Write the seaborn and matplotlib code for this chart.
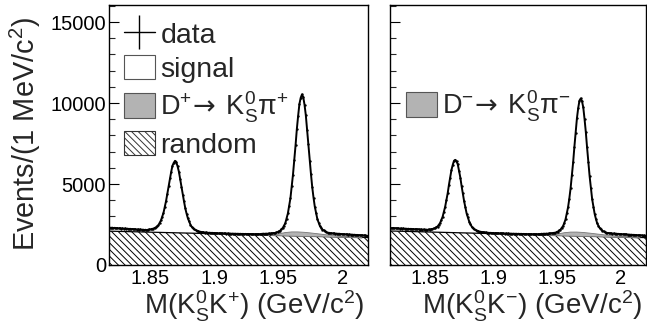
import numpy as np
import pandas as pd
import matplotlib
matplotlib.use("Agg")
import matplotlib.pyplot as plt
import seaborn as sns
from matplotlib.patches import Patch
from matplotlib.lines import Line2D
from matplotlib.ticker import FixedLocator, FixedFormatter, MultipleLocator

# ---------------- data ----------------
bin_start = 1.8185      # first bin centre (GeV/c^2), 1 MeV bins
n_bins = 202
mass = np.round(bin_start + 0.001 * np.arange(n_bins), 4)

data_plus = [
    2310, 2290, 2305, 2280, 2295, 2270, 2285, 2260, 2275, 2250, 2265, 2240, 2255, 2235, 2245,
    2220, 2235, 2210, 2225, 2200, 2215, 2190, 2205, 2180, 2195, 2170, 2185, 2160, 2175, 2150,
    2180, 2200, 2195, 2230, 2240, 2285, 2315, 2390, 2455, 2600, 2750, 2985, 3220, 3590, 3950,
    4410, 4850, 5360, 5750, 6130, 6310, 6430,
    6340, 6085, 5765, 5295, 4845, 4330, 3925, 3500, 3175, 2885, 2690, 2495,
    2360, 2285, 2200, 2165, 2115, 2095, 2060, 2050, 2025, 2028, 2005, 2010,
    1998, 1985, 1992, 1978, 1985, 1970, 1978, 1962, 1970, 1955, 1965, 1950, 1958, 1945, 1952,
    1940, 1948, 1935, 1944, 1930, 1940, 1926, 1935, 1922, 1930, 1918, 1926, 1915, 1922, 1910,
    1920, 1908, 1918, 1906, 1915, 1905, 1914, 1904, 1912, 1903, 1912, 1905, 1914,
    1918, 1935, 1922, 1940, 1928, 1948, 1938, 1960, 1955, 1978, 1975, 2010, 2028, 2085, 2120,
    2210, 2285, 2435, 2580, 2870, 3180, 3645, 4125, 4855, 5585, 6490, 7390, 8390, 9200, 9935,
    10320, 10530,
    10365, 9890, 9250, 8340, 7440, 6445, 5630, 4810, 4165, 3605, 3215, 2835, 2610, 2405, 2305,
    2185, 2140, 2068, 2042, 1992, 1990, 1962, 1968, 1945, 1950, 1932, 1940, 1925, 1932, 1915,
    1912, 1900, 1905, 1890, 1895, 1880, 1886, 1872, 1878, 1862, 1868, 1852, 1858, 1842, 1848,
    1832, 1838, 1822, 1828, 1812, 1805,
]

data_minus = [
    2285, 2270, 2290, 2262, 2278, 2255, 2270, 2248, 2262, 2240, 2255, 2232, 2248, 2225, 2240,
    2218, 2232, 2210, 2225, 2202, 2218, 2195, 2210, 2188, 2202, 2180, 2195, 2172, 2188, 2165,
    2198, 2185, 2218, 2215, 2258, 2270, 2338, 2375, 2485, 2588, 2790, 2975, 3270, 3590, 4020,
    4420, 4945, 5390, 5870, 6180, 6435, 6490,
    6395, 6205, 5810, 5395, 4870, 4415, 3930, 3565, 3170, 2935, 2680, 2525,
    2365, 2292, 2205, 2170, 2115, 2100, 2060, 2055, 2028, 2030, 2008, 2012,
    1992, 1990, 1980, 1985, 1972, 1980, 1965, 1975, 1960, 1968, 1952, 1962, 1948, 1955, 1942,
    1950, 1936, 1946, 1932, 1940, 1926, 1936, 1922, 1932, 1918, 1928, 1914, 1924, 1910, 1920,
    1908, 1918, 1904, 1915, 1902, 1912, 1900, 1910, 1900, 1908, 1902, 1910, 1898,
    1930, 1918, 1936, 1924, 1942, 1932, 1952, 1945, 1968, 1962, 1990, 1990, 2040, 2065, 2135,
    2180, 2295, 2395, 2590, 2815, 3180, 3565, 4105, 4740, 5535, 6330, 7300, 8175, 9060, 9685,
    10150, 10280,
    10110, 9730, 9015, 8220, 7255, 6375, 5490, 4775, 4070, 3600, 3150, 2840, 2565, 2420, 2275,
    2198, 2115, 2080, 2025, 2004, 1975, 1976, 1952, 1958, 1936, 1946, 1928, 1936, 1920, 1922,
    1905, 1910, 1895, 1900, 1885, 1892, 1876, 1882, 1866, 1872, 1856, 1862, 1846, 1852, 1836,
    1842, 1828, 1832, 1818, 1822, 1810,
]

# random (combinatorial) background: straight line across the window
rand_x = [1.818, 2.020]
rand_plus = [2090, 1695]
rand_minus = [2100, 1690]

# peaking background D -> KS pi (height above the random background)
peak_x = [1.940, 1.945, 1.950, 1.955, 1.960, 1.965, 1.970, 1.975,
          1.980, 1.985, 1.990, 1.995, 2.000, 2.005, 2.010, 2.015]
peak_plus = [0, 40, 120, 210, 260, 270, 255, 225, 190, 150, 115, 85, 58, 35, 15, 0]
peak_minus = [0, 35, 110, 200, 250, 262, 248, 218, 182, 145, 110, 80, 55, 32, 14, 0]

xtick_vals = [1.85, 1.90, 1.95, 2.00]
xtick_labels = ["1.85", "1.9", "1.95", "2"]
ytick_vals = [0, 5000, 10000, 15000]
ytick_labels = ["0", "5000", "10000", "15000"]

label_plus = r"$\mathrm{D}^{+}\!\mathsf{\rightarrow}\;\mathrm{K}^{0}_{\mathrm{S}}\mathrm{\pi}^{+}$"
label_minus = r"$\mathrm{D}^{-}\!\mathsf{\rightarrow}\;\mathrm{K}^{0}_{\mathrm{S}}\mathrm{\pi}^{-}$"
xlabel_plus = r"M(K$^{0}_{\mathrm{S}}$K$^{+}$) (GeV/c$^{2}$)"
xlabel_minus = r"M(K$^{0}_{\mathrm{S}}$K$^{-}$) (GeV/c$^{2}$)"

# ---------------- style ----------------
sns.set_theme(style="white")
plt.rcParams["font.family"] = ["Liberation Sans", "DejaVu Sans"]
plt.rcParams["mathtext.fontset"] = "custom"
plt.rcParams["mathtext.rm"] = "Liberation Sans"
plt.rcParams["mathtext.it"] = "Liberation Sans:italic"
plt.rcParams["mathtext.bf"] = "Liberation Sans:bold"
plt.rcParams["mathtext.sf"] = "DejaVu Sans"
plt.rcParams["hatch.linewidth"] = 0.7
plt.rcParams["axes.edgecolor"] = "black"

fig = plt.figure(figsize=(6.47, 3.31), dpi=100)
ax1 = fig.add_axes([109 / 647, 1 - 265 / 331, 259 / 647, 260 / 331])
ax2 = fig.add_axes([390 / 647, 1 - 265 / 331, 256 / 647, 260 / 331])

GREY = "#b3b3b3"
HATCH = "\\\\\\\\\\"
TICK_FS = 14.5
LABEL_FS = 20
LEG_FS = 20.5
DLEG_FS = 19.5


def draw(ax, data, rand_y, peak_y, xlabel, show_ylabels):
    df = pd.DataFrame({"mass": mass, "events": data})
    ax.fill_between(rand_x, 0, rand_y, facecolor="white", edgecolor="black",
                    hatch=HATCH, linewidth=0, zorder=1)
    ax.plot(rand_x, rand_y, color="black", lw=0.9, zorder=2)
    bg = np.interp(peak_x, rand_x, rand_y)
    ax.fill_between(peak_x, bg, bg + np.array(peak_y), facecolor=GREY,
                    edgecolor="#777777", linewidth=0.6, zorder=2)
    sns.lineplot(data=df, x="mass", y="events", ax=ax, color="black", lw=1.4, zorder=3)
    sns.scatterplot(data=df, x="mass", y="events", ax=ax, color="black", s=3,
                    linewidth=0, zorder=4)

    ax.set_xlim(1.818, 2.020)
    ax.set_ylim(0, 16050)
    ax.xaxis.set_major_locator(FixedLocator(xtick_vals))
    ax.xaxis.set_major_formatter(FixedFormatter(xtick_labels))
    ax.xaxis.set_minor_locator(MultipleLocator(0.01))
    ax.yaxis.set_major_locator(FixedLocator(ytick_vals))
    ax.yaxis.set_minor_locator(MultipleLocator(1000))
    if show_ylabels:
        ax.yaxis.set_major_formatter(FixedFormatter(ytick_labels))
    else:
        ax.set_yticklabels([])
    ax.tick_params(axis="both", which="major", direction="in", length=7, width=0.8,
                   labelsize=TICK_FS, left=True, bottom=True, top=False, right=False,
                   colors="black")
    ax.tick_params(axis="both", which="minor", direction="in", length=4, width=0.8,
                   left=True, bottom=True, top=False, right=False)
    ax.tick_params(axis="x", pad=3)
    ax.tick_params(axis="y", pad=2)
    for s in ax.spines.values():
        s.set_color("black")
        s.set_linewidth(1.0)
    ax.set_xlabel(xlabel, fontsize=LABEL_FS, loc="right")
    ax.xaxis.set_label_coords(0.985, -0.092)
    ax.set_ylabel("")


draw(ax1, data_plus, rand_plus, peak_plus, xlabel_plus, True)
draw(ax2, data_minus, rand_minus, peak_minus, xlabel_minus, False)
ax1.set_ylabel(r"Events/(1 MeV/c$^{2}$)", fontsize=20.8)
ax1.yaxis.set_label_coords(-0.255, 0.505)

data_h = Line2D([], [], color="black", lw=1.0, marker="|", markersize=24,
                markeredgewidth=1.0)
sig_h = Patch(facecolor="white", edgecolor="#555555", linewidth=0.8)
pk_h = Patch(facecolor=GREY, edgecolor="#555555", linewidth=0.8)
rnd_h = Patch(facecolor="white", edgecolor="#333333", hatch=HATCH, linewidth=0.8)

leg_kw = dict(frameon=False, fontsize=LEG_FS, borderpad=0, borderaxespad=0,
              handlelength=1.08, handleheight=0.95, labelspacing=0.22,
              handletextpad=0.2, loc="upper left")
leg1 = ax1.legend([data_h, sig_h, pk_h, rnd_h], ["data", "signal", label_plus, "random"],
                  bbox_to_anchor=(0.058, 0.94), **leg_kw)
leg1.get_texts()[2].set_fontsize(DLEG_FS)
leg2 = ax2.legend([pk_h], [label_minus], bbox_to_anchor=(0.062, 0.678), **leg_kw)
leg2.get_texts()[0].set_fontsize(DLEG_FS)

fig.savefig("out.png", dpi=100)
